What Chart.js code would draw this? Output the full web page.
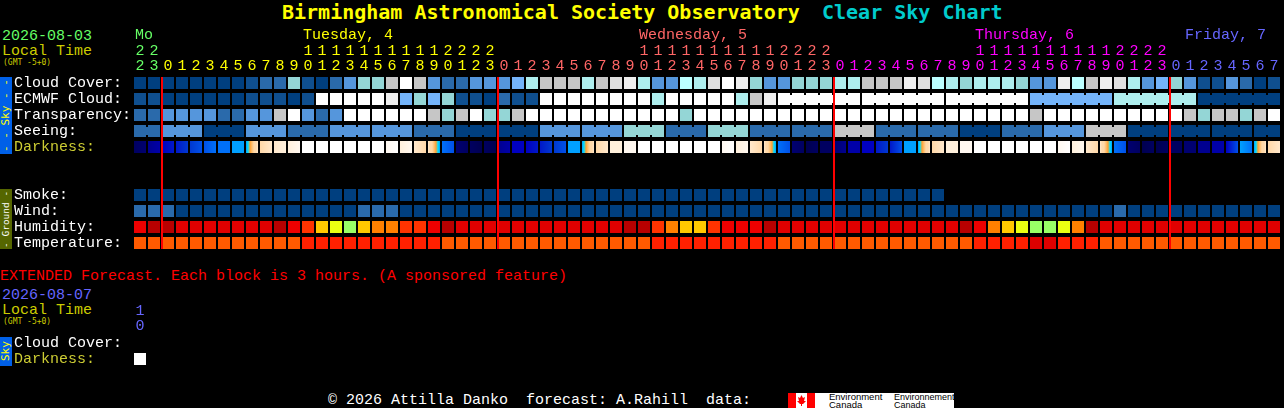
<!DOCTYPE html>
<html>
<head>
<meta charset="utf-8">
<title>Clear Sky Chart</title>
<script src="https://cdn.jsdelivr.net/npm/chart.js@4"></script>
<style>
body { margin: 0; background: #000; width: 1284px; height: 408px; overflow: hidden; position: relative; }
canvas { position: absolute; left: 0; }
.t { position: absolute; white-space: pre; font: 15px/18px "Liberation Mono", monospace; }
.title { font: bold 20px/24px "DejaVu Sans Mono", monospace; }
.gmt { font: 8px/10px "DejaVu Sans Mono", monospace; color: #cccc00; }
.side { position: absolute; left: 0; width: 12px; writing-mode: vertical-rl; transform: rotate(180deg); text-align: center; white-space: pre; font: 11px/12px "DejaVu Sans Mono", monospace; }
</style>
</head>
<body>
<div class="t title" style="left:282px;top:0px;color:#ffff00">Birmingham Astronomical Society Observatory</div>
<div class="t title" style="left:822px;top:0px;color:#00cccc">Clear Sky Chart</div>

<div class="t" style="left:2px;top:28px;color:#66ff66">2026-08-03</div>
<div class="t" style="left:2px;top:43px;color:#cccc00">Local Time</div>
<div class="t gmt" style="left:3px;top:58px">(GMT -5+0)</div>
<div class="side" style="top:77px;height:77px;background:#0060e8;color:#ffff00">- - Sky - -</div>
<div class="side" style="top:189px;height:60px;background:#556600;color:#ffffff;font-size:9.5px">- Ground -</div>

<div class="t" style="left:0;top:268px;color:#ff0000">EXTENDED Forecast. Each block is 3 hours. (A sponsored feature)</div>
<div class="t" style="left:2px;top:287px;color:#6666ff">2026-08-07</div>
<div class="t" style="left:2px;top:302px;color:#cccc00">Local Time</div>
<div class="t gmt" style="left:3px;top:317px">(GMT -5+0)</div>
<div class="side" style="top:337px;height:29px;background:#0060e8;color:#ffff00">Sky</div>

<div class="t" style="left:328px;top:392px;color:#ffffff">© 2026 Attilla Danko  forecast: A.Rahill  data:</div>
<div style="position:absolute;left:788px;top:393px;width:166px;height:15px;background:#fff;overflow:hidden">
  <svg width="27" height="15" style="position:absolute;left:0;top:0">
    <rect width="8" height="15" fill="#ff0000"/><rect x="19" width="8" height="15" fill="#ff0000"/>
    <polygon points="13.5,2 15,5 17,4 16,8 18,8 15,11 14,11 14,13 13,13 13,11 12,11 9,8 11,8 10,4 12,5" fill="#ff0000"/>
  </svg>
  <div style="position:absolute;left:41px;top:0;font:9.5px/8px 'Liberation Sans',sans-serif;color:#000">Environment<br>Canada</div>
  <div style="position:absolute;left:106px;top:0;font:9px/8px 'Liberation Sans',sans-serif;color:#000">Environnement<br>Canada</div>
</div>

<canvas id="mainChart" width="1284" height="251" style="top:0"></canvas>
<canvas id="extChart" width="147" height="67" style="top:300px"></canvas>

<script>
// hours along the top, one block per hour
const hours = [22,23,
  0,1,2,3,4,5,6,7,8,9,10,11,12,13,14,15,16,17,18,19,20,21,22,23,
  0,1,2,3,4,5,6,7,8,9,10,11,12,13,14,15,16,17,18,19,20,21,22,23,
  0,1,2,3,4,5,6,7,8,9,10,11,12,13,14,15,16,17,18,19,20,21,22,23,
  0,1,2,3,4,5,6,7];
const midnights = [2,26,50,74];

// day headings
const dayNames = ['Mo','Tuesday, 4','Wednesday, 5','Thursday, 6','Friday, 7'];
const dayLabelCols = [0,12,36,60,75];
const dayStartCols = [0,2,26,50,74];
const dayColors = ['#66ff66','#ffff00','#ff6666','#ff00ff','#6666ff'];

const rowNames = ['Cloud Cover:','ECMWF Cloud:','Transparency:','Seeing:','Darkness:',' ','  ','Smoke:','Wind:','Humidity:','Temperature:'];

// sky colours, index = level in the rows below
const skyPalette = ['#003f7f','#0f4f8f','#2a6aab','#5596dc','#74b4fa','#94d6d6','#aeeeee','#bbffff','#c6c6c6','#dfdfdf','#eeeeee','#ffffff'];
const cloudCover = [0,0,0,0,0,0,0,0,1,2,2,5,1,0,2,3,5,5,8,11,8,3,2,2,3,3,3,4,6,8,8,8,6,8,9,10,6,3,3,7,6,9,11,10,5,3,3,5,5,5,6,6,8,8,8,10,9,7,6,5,6,6,6,5,3,3,10,7,8,10,9,6,3,4,5,3,1,1,3,2,0,1];
const ecmwfCloud = [1,1,0,0,0,0,0,0,1,1,1,0,1,11,11,11,11,11,10,4,5,4,5,1,1,0,2,1,1,11,11,11,11,11,11,11,11,6,11,11,11,11,11,6,8,10,11,11,11,11,11,11,11,11,11,11,11,11,11,11,11,11,11,11,4,4,4,4,4,4,6,6,6,6,6,6,0,0,0,0,0,0];
const ecmwfSpans = [1,1,1,1,1,1,1,1,1,1,1,1,1,1,1,1,1,1,1,1,1,1,1,1,1,1,1,1,1,1,1,1,1,1,1,1,1,1,1,1,1,1,1,1,1,1,6,6,6,6,6,6];
const transparency = [2,2,3,3,3,3,2,2,3,3,8,11,3,2,3,11,11,11,11,11,11,8,5,8,11,5,5,8,11,11,11,11,11,11,11,11,11,11,11,5,11,11,11,11,11,11,11,11,11,11,11,11,11,11,11,11,11,11,11,11,11,11,11,11,8,11,11,11,11,11,11,11,11,11,11,8,5,8,8,5,8,11];
const seeing = [2,2,3,3,3,0,0,0,3,3,3,2,2,2,3,3,3,3,3,3,2,2,2,0,0,0,0,0,0,3,3,3,3,3,3,5,5,5,2,2,2,5,5,5,2,2,2,2,2,2,8,8,8,2,2,2,2,2,2,0,0,0,2,2,2,3,3,3,8,8,8,0,0,0,0,0,0,0,0,0,0,0];
const seeingSpans = [2,3,3,3,3,3,3,3,3,3,3,3,3,3,3,3,3,3,3,3,3,3,3,3,3,3,3,2];
const smoke = [0,0,0,0,0,0,0,0,0,0,0,0,0,0,0,0,0,0,0,0,0,0,0,0,0,0,0,0,0,0,0,0,0,0,0,0,0,0,0,0,0,0,0,0,0,0,0,0,0,0,0,0,0,0,0,0,0,0];
const wind = [2,2,2,0,0,0,0,0,0,0,0,0,0,0,0,0,2,2,2,0,0,0,0,0,0,0,0,0,0,0,0,0,0,0,0,0,0,0,0,0,0,0,0,0,0,0,0,0,0,0,0,0,0,0,0,0,0,0,0,0,0,0,0,0,0,0,0,0,0,0,2,0,0,0,0,0,0,0,0,0,0,0];

// humidity and temperature colours
const humidityPalette = ['#b80000','#e00000','#ee0000','#ff3300','#ff8000','#ffc800','#eaff12','#99ff66'];
const humidity = [2,0,0,1,1,1,1,1,1,1,0,2,3,5,6,7,5,4,4,3,3,2,0,1,1,1,1,1,1,1,1,1,1,1,1,0,0,3,4,5,5,3,2,2,2,0,1,1,1,1,1,1,1,1,1,1,1,1,1,0,2,4,5,6,7,7,6,4,0,1,1,1,1,1,1,1,1,1,1,1,1,1];
const tempPalette = ['#ff5a00','#ff2000','#dd0000'];
const temperature = [0,0,0,0,0,0,0,0,0,0,0,0,1,1,1,1,1,1,1,1,1,1,0,0,0,0,0,0,0,0,0,0,0,0,0,0,0,1,1,1,1,1,1,1,1,1,0,0,0,0,0,0,0,0,0,0,0,0,0,0,1,1,1,1,2,2,1,1,1,0,0,0,0,0,0,0,0,0,0,0,0,0];

// darkness cells fade left to right through these levels
const darkPalette = ['#000050','#000060','#000070','#000090','#0000a8','#0000c0','#0018c8','#0038d0','#0050e8','#0070f8','#00a0ff','#00e0ff','#ffa030','#ffc070','#ffd8a8','#ffe8cc','#fff0dc','#fff8f0','#ffffff'];
const dusk = [10,11,12,13,14,14,15];
const dawn = [15,14,14,13,12,11,10];
const noon = [18,18];
const darkness = [[1,2],[3,4],[5,6],[6,7],[7,8],[8,9],[9,9],[10,10],dusk,[14,15],[15,16],[16,17],
  noon,noon,noon,noon,noon,noon,[17,18],[16,17],[15,14],dawn,[9,8],[2,1],[1,0],[1,0],
  [3,4],[5,5],[5,6],[6,7],[7,8],[10,10],dusk,[14,15],[16,16],[17,17],
  noon,noon,noon,noon,noon,noon,[17,18],[16,17],[15,14],dawn,[9,8],[2,1],[0,1],[1,1],
  [2,3],[4,4],[5,5],[6,7],[6,8],[10,10],dusk,[14,15],[16,16],[17,17],
  noon,noon,noon,noon,noon,noon,[17,18],[16,17],[15,14],dawn,[9,8],[2,1],[0,1],[0,1],
  [1,1],[2,2],[3,3],[4,4],[5,8],[10,9],dusk,[14,15]];

// extended forecast
const extHours = [10];
const extRowNames = ['Cloud Cover:','Darkness:'];
const extDarkness = [noon];
const extColor = '#6666ff';

const CELL = 12;
const LABEL_FONT = { family: '"Liberation Mono", monospace', size: 15, lineHeight: 1 };

function hourTick(h) {
    return h >= 10 ? [String(h).charAt(0), String(h).charAt(1)] : ['', String(h)];
}

function dayColorForCol(col) {
    let c = dayColors[0];
    dayStartCols.forEach((start, i) => { if (col >= start) c = dayColors[i]; });
    return c;
}

// row of plain blocks; spans says which neighbours are joined into one long block
function blockRow(label, values, palette, spans) {
    const ds = {
        label: label,
        data: values.map((v, i) => ({ x: i, y: label })),
        pointStyle: 'rect',
        pointRadius: CELL / (2 * Math.SQRT1_2),
        pointBorderWidth: 0,
        pointBackgroundColor: values.map(v => palette[v]),
        showLine: false
    };
    if (spans) {
        const joined = [];
        spans.forEach(n => { for (let k = 0; k < n; k++) joined.push(k < n - 1); });
        ds.showLine = true;
        ds.borderWidth = CELL - 4;
        ds.borderCapStyle = 'butt';
        ds.segment = {
            borderColor: ctx => joined[ctx.p0DataIndex] ? palette[values[ctx.p0DataIndex]] : 'transparent'
        };
    }
    return ds;
}

function gradientCell(levels) {
    const c = document.createElement('canvas');
    c.width = CELL;
    c.height = CELL;
    const g = c.getContext('2d');
    const grad = g.createLinearGradient(0, 0, CELL, 0);
    levels.forEach((lv, i) => grad.addColorStop(i / (levels.length - 1), darkPalette[lv]));
    g.fillStyle = grad;
    g.fillRect(0, 0, CELL, CELL);
    return c;
}

function darknessRow(label, values) {
    const images = values.map(gradientCell);
    return {
        label: label,
        data: values.map((v, i) => ({ x: i, y: label })),
        pointStyle: ctx => images[ctx.dataIndex],
        pointRadius: CELL,
        pointBorderWidth: 0,
        showLine: false
    };
}

// midnight lines and day headings go on top of the blocks
const overlayPlugin = {
    id: 'overlay',
    afterDatasetsDraw(chart) {
        const { ctx, scales: { x, y } } = chart;
        ctx.save();
        ctx.strokeStyle = '#ff0000';
        ctx.lineWidth = 2;
        midnights.forEach(col => {
            const px = x.getPixelForValue(col) - CELL / 2;
            ctx.beginPath();
            ctx.moveTo(px, y.getPixelForValue(0) - CELL / 2);
            ctx.lineTo(px, y.getPixelForValue(rowNames.length - 1) + CELL / 2);
            ctx.stroke();
        });
        ctx.font = '15px "Liberation Mono", monospace';
        ctx.textBaseline = 'middle';
        dayNames.forEach((name, i) => {
            ctx.fillStyle = dayColors[i];
            ctx.fillText(name, x.getPixelForValue(dayLabelCols[i]) - CELL / 2 + 1, 35);
        });
        ctx.restore();
    }
};

function makeGrid(id, ticks, tickColor, rows, datasets, headHeight, plugins) {
    return new Chart(document.getElementById(id), {
        type: 'scatter',
        data: { datasets: datasets },
        plugins: plugins,
        options: {
            responsive: false,
            animation: false,
            devicePixelRatio: 1,
            layout: { autoPadding: false, padding: { left: 14, right: id === 'mainChart' ? 3 : 0, top: 0, bottom: 0 } },
            plugins: { legend: { display: false }, tooltip: { enabled: false } },
            scales: {
                x: {
                    type: 'category',
                    position: 'top',
                    labels: ticks,
                    offset: true,
                    grid: { display: false, drawTicks: false },
                    border: { display: false },
                    afterFit: s => { s.height = headHeight; s.paddingLeft = 0; s.paddingRight = 0; },
                    ticks: {
                        autoSkip: false,
                        maxRotation: 0,
                        padding: 1,
                        font: LABEL_FONT,
                        color: tickColor
                    }
                },
                y: {
                    type: 'category',
                    labels: rows,
                    offset: true,
                    grid: { display: false, drawTicks: false },
                    border: { display: false },
                    afterFit: s => { s.width = 119; s.paddingTop = 0; s.paddingBottom = 0; },
                    ticks: {
                        crossAlign: 'far',
                        autoSkip: false,
                        font: LABEL_FONT,
                        color: ctx => rows[ctx.index] === 'Darkness:' ? '#cccc33' : '#ffffff'
                    }
                }
            }
        }
    });
}

makeGrid('mainChart', hours.map(hourTick), ctx => dayColorForCol(ctx.index), rowNames, [
    blockRow('Cloud Cover:', cloudCover, skyPalette),
    blockRow('ECMWF Cloud:', ecmwfCloud, skyPalette, ecmwfSpans),
    blockRow('Transparency:', transparency, skyPalette),
    blockRow('Seeing:', seeing, skyPalette, seeingSpans),
    darknessRow('Darkness:', darkness),
    blockRow('Smoke:', smoke, skyPalette),
    blockRow('Wind:', wind, skyPalette),
    blockRow('Humidity:', humidity, humidityPalette),
    blockRow('Temperature:', temperature, tempPalette)
], 75, [overlayPlugin]);

makeGrid('extChart', extHours.map(hourTick), extColor, extRowNames, [
    darknessRow('Darkness:', extDarkness)
], 35, []);
</script>
</body>
</html>
